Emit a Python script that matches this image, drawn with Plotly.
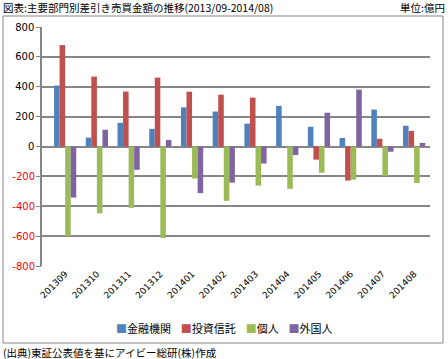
import plotly.graph_objects as go

categories = ["201309", "201310", "201311", "201312", "201401", "201402",
              "201403", "201404", "201405", "201406", "201407", "201408"]
financial = [408, 59, 158, 118, 262, 234, 153, 272, 132, 57, 247, 139]
trusts = [679, 468, 368, 461, 367, 347, 327, 0, -88, -228, 52, 105]
individuals = [-600, -448, -411, -612, -214, -364, -262, -284, -176, -222, -197, -244]
foreigners = [-342, 112, -156, 44, -312, -242, -114, -57, 226, 381, -35, 24]

series_names = ["金融機関", "投資信託", "個人", "外国人"]
series_values = [financial, trusts, individuals, foreigners]
colors = ["#4F81BD", "#C0504D", "#9BBB59", "#8064A2"]

pos_ticks = [0, 200, 400, 600, 800]
neg_ticks = [-800, -600, -400, -200]

title_text = "図表:主要部門別差引き売買金額の推移(2013/09-2014/08)"
unit_text = "単位:億円"
source_text = "(出典)東証公表値を基にアイビー総研(株)作成"

FONT = "Noto Sans CJK JP"

fig = go.Figure()
for name, vals, col in zip(series_names, series_values, colors):
    fig.add_trace(go.Bar(x=categories, y=vals, name=name, marker_color=col,
                         marker_line_width=0, showlegend=False))

# invisible trace to activate second y-axis for red negative labels
fig.add_trace(go.Scatter(x=[categories[0]], y=[0], yaxis="y2", mode="markers",
                         marker=dict(opacity=0), showlegend=False, hoverinfo="skip"))

L, R, T, B = 42, 18, 27, 93
W, H = 448, 359
pw, ph = W - L - R, H - T - B

def px(xp):
    return (xp - L) / pw

def py(yp):
    return (H - B - yp) / ph

fig.update_layout(
    width=W, height=H,
    margin=dict(l=L, r=R, t=T, b=B),
    paper_bgcolor="white", plot_bgcolor="white",
    font=dict(family=FONT, size=11, color="black"),
    barmode="group", bargap=0.3, bargroupgap=0,
    showlegend=False,
    xaxis=dict(tickangle=-45, tickfont=dict(size=9, family="DejaVu Sans"),
               showgrid=False, showline=False, ticks="", zeroline=False),
    yaxis=dict(range=[-800, 800], tickvals=neg_ticks + pos_ticks,
               ticktext=[""] * len(neg_ticks) + [str(v) for v in pos_ticks],
               tickfont=dict(size=10, color="black", family="DejaVu Sans"),
               showgrid=True, gridcolor="#868686", gridwidth=1.5,
               zeroline=True, zerolinecolor="#868686", zerolinewidth=1.5,
               showline=True, linecolor="#868686", linewidth=1.5,
               ticks="outside", ticklen=4, tickcolor="#868686"),
    yaxis2=dict(range=[-800, 800], overlaying="y", side="left", anchor="x",
                tickvals=neg_ticks, ticktext=[str(v) for v in neg_ticks],
                tickfont=dict(size=10, color="red", family="DejaVu Sans"),
                showgrid=False, zeroline=False, showline=False,
                ticks="outside", ticklen=4, tickcolor="#868686"),
)

fig.add_shape(type="rect", xref="paper", yref="paper",
              x0=px(3), x1=px(443), y0=py(343), y1=py(16),
              line=dict(color="#868686", width=1), layer="below")

legend_html = "&nbsp;&nbsp;&nbsp;&nbsp;".join(
    f"<span style='color:{c}'>■</span>{n}" for n, c in zip(series_names, colors))
fig.add_annotation(text=legend_html, xref="paper", yref="paper", x=px(224), y=py(328),
                   xanchor="center", yanchor="middle", showarrow=False,
                   font=dict(size=11, family=FONT))

fig.add_annotation(text=title_text, xref="paper", yref="paper", x=px(1), y=py(8),
                   xanchor="left", yanchor="middle", showarrow=False,
                   font=dict(size=10.5, family=FONT))
fig.add_annotation(text=unit_text, xref="paper", yref="paper", x=px(447), y=py(8),
                   xanchor="right", yanchor="middle", showarrow=False,
                   font=dict(size=10.5, family=FONT))
fig.add_annotation(text=source_text, xref="paper", yref="paper", x=px(1), y=py(352),
                   xanchor="left", yanchor="middle", showarrow=False,
                   font=dict(size=10.5, family=FONT))

fig.write_html("out.html", config={"displayModeBar": False},
               post_script="document.body.style.margin='0';")
